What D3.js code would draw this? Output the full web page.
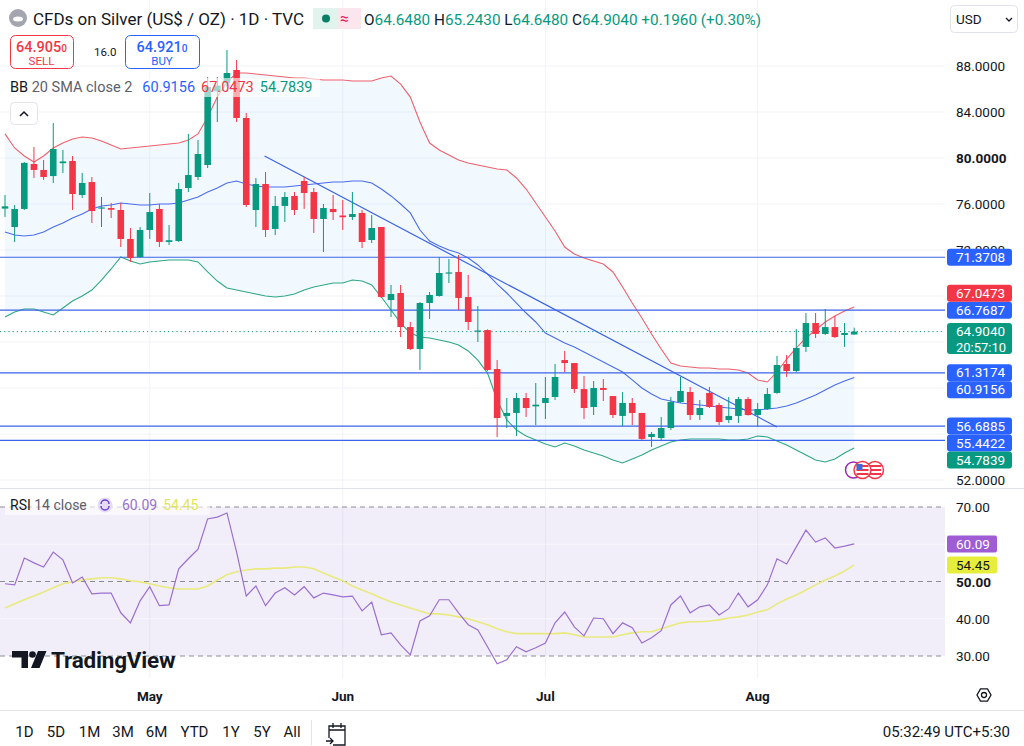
<!DOCTYPE html>
<html><head><meta charset="utf-8">
<script src="https://cdn.jsdelivr.net/npm/d3@7"></script>
<style>
body{margin:0;background:#fff;}
svg{display:block;font-family:Roboto,"Noto Sans",sans-serif;}
</style>
</head><body>
<svg id="c" width="1024" height="746"></svg>
<script>
// ---------- DATA ----------
const opens=[75.60,74.00,75.57,79.48,78.96,78.43,79.55,79.74,76.78,77.91,
75.60,75.65,75.48,72.96,71.39,73.74,75.57,72.70,72.78,77.39,
78.35,79.39,85.80,86.52,87.65,83.48,75.48,77.74,73.83,75.83,
76.70,78.00,77.04,74.70,75.57,75.00,74.87,75.22,72.87,74.00,
67.65,68.26,65.30,63.39,67.39,68.00,69.95,70.09,67.91,64.90,
65.04,61.65,57.57,57.83,59.13,58.40,58.70,59.22,62.43,62.17,
59.91,58.35,60.00,59.30,57.57,58.70,57.83,55.74,55.65,56.52,
58.78,59.65,57.65,59.57,58.52,57.22,57.57,59.04,57.65,58.17,
59.57,62.09,61.48,63.57,65.65,64.70,65.30,64.61,64.648];
const highs=[76.78,75.91,79.65,80.96,79.83,83.04,80.70,80.17,78.70,78.35,
76.61,76.09,76.09,73.91,74.00,76.96,76.00,74.17,77.83,82.09,
81.57,87.04,87.04,89.39,88.52,83.91,78.26,78.78,76.70,77.04,
77.04,78.35,77.39,76.00,76.78,76.35,77.04,75.48,75.04,74.00,
68.96,68.96,65.74,67.48,68.35,71.39,71.22,71.57,69.83,67.13,
65.10,62.43,59.13,59.57,59.57,60.43,60.96,62.09,63.22,62.17,
61.04,60.61,60.78,59.30,59.65,59.13,57.83,56.17,57.48,59.22,
60.96,60.09,58.96,60.09,58.70,59.22,59.22,59.22,58.70,60.00,
62.78,62.87,65.13,66.52,66.52,66.87,66.26,65.65,65.243];
const lows=[74.87,72.70,75.48,78.26,78.09,77.83,78.70,75.48,76.52,74.35,
74.00,74.78,72.26,70.96,71.30,72.96,72.26,72.43,72.70,77.04,
78.09,79.13,83.13,86.17,83.13,75.74,74.00,73.13,73.30,74.43,
75.04,75.57,73.48,71.83,74.61,73.74,74.61,72.17,72.61,67.83,
66.17,64.43,63.30,61.57,66.00,67.95,69.13,66.78,65.04,64.00,
61.48,55.74,56.52,55.83,57.48,56.78,57.30,58.96,61.39,59.57,
57.30,57.65,58.87,57.39,56.70,56.78,55.48,54.87,55.48,56.35,
58.70,57.22,57.22,58.26,56.78,56.96,56.96,57.60,56.61,58.09,
59.50,60.96,61.39,63.13,64.35,64.61,64.35,63.57,64.648];
const closes=[75.80,75.57,79.57,78.96,78.35,80.78,79.70,76.87,77.83,75.39,
75.70,75.50,72.96,71.30,73.74,75.30,72.70,72.85,77.30,78.52,
80.35,86.17,86.30,87.39,83.48,75.91,77.74,73.74,75.83,76.61,
75.48,76.96,74.70,75.65,75.30,74.85,75.13,72.70,73.91,67.91,
68.17,65.30,63.39,67.39,68.09,70.00,70.05,67.83,65.74,65.00,
61.57,57.39,57.83,59.13,58.26,58.55,59.13,60.96,62.17,59.91,
58.26,60.00,59.83,57.65,58.70,57.83,55.57,56.00,56.52,58.78,
59.74,57.65,58.26,58.35,57.04,57.57,59.04,57.65,58.17,59.48,
62.00,61.48,63.48,65.65,64.70,65.30,64.43,64.78,64.904];

const bbUpper=[82.10,80.87,80.17,79.65,80.17,80.87,81.30,81.65,81.83,81.74,
81.48,81.13,80.78,80.87,80.96,81.04,81.13,81.22,81.30,81.57,
82.09,83.57,85.30,86.61,87.39,87.39,87.30,87.22,87.13,87.04,
86.96,86.96,86.87,86.78,86.78,86.78,86.70,86.70,86.70,86.96,
87.13,86.43,85.30,83.13,81.30,80.70,80.26,79.83,79.57,79.39,
79.22,79.04,78.96,78.26,77.30,76.09,74.87,73.65,72.26,71.65,
71.30,71.04,70.78,70.09,68.78,67.39,66.09,64.70,63.39,62.17,
61.91,61.83,61.74,61.74,61.65,61.65,61.57,61.30,60.70,60.52,
61.39,62.52,63.48,64.35,65.04,65.74,66.26,66.70,67.0473];
const bbBasis=[73.57,73.30,73.22,73.30,73.57,74.00,74.35,74.78,75.13,75.57,
75.83,75.91,76.09,76.00,75.91,75.91,76.00,76.00,76.09,76.35,
76.61,77.04,77.39,77.83,78.00,77.74,77.57,77.48,77.48,77.48,
77.57,77.65,77.74,77.83,77.91,77.91,78.00,78.00,77.83,77.30,
76.70,76.00,75.22,73.74,72.78,72.35,72.00,71.74,71.30,70.70,
69.91,69.04,68.26,67.39,66.52,65.74,64.78,64.35,63.91,63.57,
63.13,62.70,62.26,61.83,61.39,60.70,60.00,59.48,59.04,58.87,
58.70,58.61,58.52,58.43,58.35,58.26,58.17,58.09,58.09,58.17,
58.26,58.43,58.70,59.04,59.39,59.83,60.26,60.61,60.9156];
const bbLower=[66.17,66.61,66.87,66.87,66.61,66.35,66.96,67.57,68.00,68.52,
69.39,70.35,71.39,71.04,70.78,70.96,71.04,71.13,71.13,71.13,
70.96,70.09,69.30,68.70,68.52,68.35,68.17,68.00,67.91,68.00,
68.17,68.52,68.78,68.96,69.13,69.13,69.39,69.30,68.96,67.91,
66.78,65.65,64.78,64.43,64.35,64.17,64.00,63.74,63.22,62.43,
61.30,58.96,57.22,56.35,55.83,55.48,55.13,54.87,55.22,54.96,
54.61,54.35,54.09,53.74,53.48,53.83,54.17,54.61,54.96,55.30,
55.48,55.57,55.57,55.57,55.57,55.48,55.48,55.57,55.83,55.74,
55.39,55.04,54.61,54.17,53.74,53.57,53.83,54.35,54.7839];

const rsi=[49.4,49.1,56.3,55.0,53.9,57.9,55.8,49.6,51.2,46.7,
46.9,46.9,41.6,38.9,44.8,48.6,43.5,43.7,53.4,56.1,
58.7,66.8,67.3,68.4,57.9,46.1,48.8,43.5,46.9,48.3,
46.4,48.6,45.6,46.9,46.4,45.9,46.1,42.1,44.5,35.7,
36.2,33.0,30.3,39.4,40.8,45.1,45.1,41.6,38.4,37.0,
32.5,27.9,29.0,32.5,31.1,32.2,33.5,38.9,41.8,37.8,
35.4,40.2,40.0,36.0,38.9,37.6,33.5,34.9,36.8,43.7,
46.1,41.6,43.2,43.7,41.0,42.7,46.9,43.2,45.1,49.1,
56.1,54.7,59.3,63.8,60.6,61.7,59.0,59.5,60.09];
const rsiMA=[42.9,44.0,45.1,46.1,47.2,48.3,49.4,49.9,50.4,50.7,
51.0,51.0,50.7,50.2,49.9,49.4,48.8,48.3,48.0,48.0,
48.0,48.8,50.4,51.8,52.6,53.1,53.4,53.4,53.6,53.6,
53.9,53.9,53.4,52.3,51.2,50.2,48.8,47.7,46.7,45.6,
44.5,43.7,42.9,42.1,41.3,41.3,41.0,40.5,40.0,39.2,
38.4,37.3,36.5,36.0,36.0,36.0,36.0,36.0,36.2,35.7,
35.1,35.1,35.1,35.1,35.7,36.2,36.5,36.5,37.3,38.1,
38.9,39.2,39.2,39.4,39.7,40.2,40.5,41.0,41.8,42.4,
44.0,45.3,46.4,47.7,49.1,50.4,51.5,52.8,54.45];

const levels=[71.3708,66.7687,61.3174,56.6885,55.4422];
const trendStart=[26.9,80.17], trendEnd=[80.0,56.61];
const lastPrice=64.904, countdown="20:57:10";
const priceTicks=[52,56,60,64,68,72,76,80,84,88];
const rsiTicks=[30,40,50,60,70];
const rsiBands=[70,50,30];
const monthLabels=["May","Jun","Jul","Aug"];
const monthIndex=[15,35,56,78];
const rangeButtons=["1D","5D","1M","3M","6M","YTD","1Y","5Y","All"];
const ohlcLabels=["O","H","L","C"];
const ohlcValues=["64.6480","65.2430","64.6480","64.9040"];
const changeText="+0.1960 (+0.30%)";

// ---------- SETUP ----------
const GREEN="#089981", RED="#f23645", BLUE="#2962ff", TEXT="#131722";
const plotR=945, priceBottom=488, rsiTop=489, rsiBottom=678;
const svg=d3.select("#c");
const n=closes.length;
const x=d3.scaleLinear().domain([0,n-1]).range([5,854.2]);
const y=d3.scaleLinear().domain([52,88]).range([480,66]);
const yr=d3.scaleLinear().domain([30,70]).range([656,507]);
const fmt4=d3.format(".4f"), fmt2=d3.format(".2f");

const defs=svg.append("defs");
defs.append("clipPath").attr("id","cp").append("rect").attr("x",0).attr("y",0).attr("width",plotR).attr("height",priceBottom);
defs.append("clipPath").attr("id","cr").append("rect").attr("x",0).attr("y",rsiTop).attr("width",plotR).attr("height",rsiBottom-rsiTop);

// grid
const grid=svg.append("g");
grid.selectAll("line.h").data(priceTicks).join("line")
  .attr("x1",0).attr("x2",plotR).attr("y1",d=>y(d)).attr("y2",d=>y(d))
  .attr("stroke","#f0f3fa").attr("stroke-width",1);
grid.selectAll("line.v").data(monthIndex).join("line").attr("class","v")
  .attr("x1",d=>x(d)).attr("x2",d=>x(d)).attr("y1",0).attr("y2",rsiBottom)
  .attr("stroke","#f0f3fa").attr("stroke-width",1);

// ---------- PRICE PANE ----------
const pp=svg.append("g").attr("clip-path","url(#cp)");
const idx=d3.range(n);
pp.append("path").datum(idx)
  .attr("d",d3.area().x(i=>x(i)).y0(i=>y(bbLower[i])).y1(i=>y(bbUpper[i])))
  .attr("fill","rgba(33,150,243,0.06)");
const line=arr=>d3.line().x(i=>x(i)).y(i=>y(arr[i]))(idx);
pp.append("path").attr("d",line(bbUpper)).attr("fill","none").attr("stroke","#f0606c").attr("stroke-width",1.1);
pp.append("path").attr("d",line(bbBasis)).attr("fill","none").attr("stroke","#4a6cf0").attr("stroke-width",1.1);
pp.append("path").attr("d",line(bbLower)).attr("fill","none").attr("stroke","#2fa785").attr("stroke-width",1.1);

pp.selectAll("line.lvl").data(levels).join("line")
  .attr("x1",0).attr("x2",plotR).attr("y1",d=>y(d)).attr("y2",d=>y(d))
  .attr("stroke","#3d63ea").attr("stroke-width",1.2);
pp.append("line").attr("x1",x(trendStart[0])).attr("y1",y(trendStart[1]))
  .attr("x2",x(trendEnd[0])).attr("y2",y(trendEnd[1]))
  .attr("stroke","#3d63ea").attr("stroke-width",1.2);
pp.append("line").attr("x1",0).attr("x2",plotR).attr("y1",y(lastPrice)).attr("y2",y(lastPrice))
  .attr("stroke",GREEN).attr("stroke-width",1).attr("stroke-dasharray","1.2,3");

const cg=pp.append("g");
const col=i=>closes[i]>=opens[i]?GREEN:RED;
cg.selectAll("line.w").data(idx).join("line")
  .attr("x1",i=>x(i)).attr("x2",i=>x(i)).attr("y1",i=>y(highs[i])).attr("y2",i=>y(lows[i]))
  .attr("stroke",col).attr("stroke-width",1);
cg.selectAll("rect.b").data(idx).join("rect")
  .attr("x",i=>x(i)-3.3).attr("width",6.6)
  .attr("y",i=>y(Math.max(opens[i],closes[i])))
  .attr("height",i=>Math.max(1.2,Math.abs(y(opens[i])-y(closes[i]))))
  .attr("fill",col);

// ---------- RSI PANE ----------
const rp=svg.append("g").attr("clip-path","url(#cr)");
rp.append("rect").attr("x",0).attr("width",plotR).attr("y",yr(70)).attr("height",yr(30)-yr(70))
  .attr("fill","rgba(126,87,194,0.1)");
rp.selectAll("line.g").data([60,40]).join("line")
  .attr("x1",0).attr("x2",plotR).attr("y1",d=>yr(d)).attr("y2",d=>yr(d))
  .attr("stroke","rgba(255,255,255,0.5)");
rp.selectAll("line.band").data(rsiBands).join("line")
  .attr("x1",0).attr("x2",plotR).attr("y1",d=>yr(d)).attr("y2",d=>yr(d))
  .attr("stroke","#8a8d96").attr("stroke-dasharray","5,4").attr("stroke-width",1);
rp.append("path").attr("d",d3.line().x(i=>x(i)).y(i=>yr(rsiMA[i]))(idx))
  .attr("fill","none").attr("stroke","#e8ea7e").attr("stroke-width",1.6);
rp.append("path").attr("d",d3.line().x(i=>x(i)).y(i=>yr(rsi[i]))(idx))
  .attr("fill","none").attr("stroke","#9a6fd0").attr("stroke-width",1.2);

// separators
svg.append("line").attr("x1",0).attr("x2",1024).attr("y1",priceBottom+0.5).attr("y2",priceBottom+0.5).attr("stroke","#e0e3eb");
svg.append("line").attr("x1",0).attr("x2",1024).attr("y1",710.5).attr("y2",710.5).attr("stroke","#e0e3eb");

// ---------- PRICE AXIS ----------
const fixed=levels.map(v=>({v,c:BLUE})).concat([{v:lastPrice,c:GREEN,sub:countdown}]);
fixed.sort((a,b)=>y(a.v)-y(b.v));
let prevB=-1e9;
fixed.forEach(b=>{b.h=b.sub?31:17;b.top=Math.max(y(b.v)-8.5,prevB);prevB=b.top+b.h;});
const placed=fixed.slice();
const ind=[{v:bbUpper[n-1],c:RED},{v:bbBasis[n-1],c:BLUE},{v:bbLower[n-1],c:GREEN}];
ind.forEach(b=>{
  b.h=17;b.top=y(b.v)-8.5;
  for(let k=0;k<10;k++){
    const o=placed.find(p=>b.top<p.top+p.h-0.01&&b.top+b.h>p.top+0.01);
    if(!o)break;
    b.top=(y(b.v)<o.top+o.h/2)?o.top-b.h:o.top+o.h;
  }
  placed.push(b);
});
const badges=placed;
const ax=svg.append("g").attr("font-size",13.5).attr("fill",TEXT);
ax.selectAll("text.t").data(priceTicks.filter(t=>badges.every(b=>y(t)<b.top+3||y(t)>b.top+b.h+6)))
  .join("text").attr("x",956).attr("y",d=>y(d)+5).text(d=>fmt4(d))
  .attr("font-weight",d=>d===80?700:400);
const bg=ax.selectAll("g.b").data(badges).join("g");
bg.append("rect").attr("x",947).attr("width",65).attr("y",d=>d.top).attr("height",d=>d.h).attr("rx",3).attr("fill",d=>d.c);
bg.append("text").attr("x",956).attr("y",d=>d.top+13).attr("fill","#fff").text(d=>fmt4(d.v));
bg.filter(d=>d.sub).append("text").attr("x",956).attr("y",d=>d.top+28.5).attr("font-size",13).attr("fill","#fff").text(d=>d.sub);

// RSI axis
const rb=[{v:rsi[n-1],c:"#a05cd5",t:"#fff"},{v:rsiMA[n-1],c:"#e6ee3c",t:TEXT}];
ax.selectAll("text.r").data(rsiTicks.filter(t=>rb.every(b=>Math.abs(yr(b.v)-yr(t))>8)))
  .join("text").attr("x",956).attr("y",d=>yr(d)+5).text(d=>fmt2(d))
  .attr("font-weight",d=>d===50?700:400);
const rbg=ax.selectAll("g.rb").data(rb).join("g");
rbg.append("rect").attr("x",947).attr("width",50).attr("y",d=>yr(d.v)-8.5).attr("height",17).attr("rx",2).attr("fill",d=>d.c);
rbg.append("text").attr("x",956).attr("y",d=>yr(d.v)+5).attr("fill",d=>d.t).text(d=>fmt2(d.v));

// time axis
svg.append("g").selectAll("text").data(monthIndex).join("text")
  .attr("x",d=>x(d)).attr("y",701).attr("text-anchor","middle")
  .attr("font-size",13.5).attr("font-weight",700).attr("fill",TEXT)
  .text((d,i)=>monthLabels[i]);
// gear
const gear=svg.append("g").attr("transform","translate(984,695)");
gear.append("path").attr("d",d3.range(6).map((k,j)=>{const a=Math.PI/3*k;return (j?"L":"M")+(7*Math.cos(a)).toFixed(2)+","+(7*Math.sin(a)).toFixed(2);}).join("")+"Z")
  .attr("fill","none").attr("stroke",TEXT).attr("stroke-width",1.3);
gear.append("circle").attr("r",2.5).attr("fill","none").attr("stroke",TEXT).attr("stroke-width",1.3);

// flags
const fl=svg.append("g");
fl.append("circle").attr("cx",853.5).attr("cy",470).attr("r",8).attr("fill","#fff").attr("stroke","#9c27b0").attr("stroke-width",1.5);
[[875,470],[862.5,470]].forEach(([cx,cy],k)=>{
  const g=fl.append("g");
  g.append("circle").attr("cx",cx).attr("cy",cy).attr("r",8.5).attr("fill","#fff").attr("stroke",RED).attr("stroke-width",1.5);
  [-4,0,4].forEach(dy=>g.append("rect").attr("x",cx-6).attr("y",cy+dy-1).attr("width",12).attr("height",2).attr("fill",RED));
  if(k===1) g.append("rect").attr("x",cx-6).attr("y",cy-6).attr("width",6).attr("height",6).attr("fill","#3f6ad8");
});

// ---------- HEADER / LEGENDS ----------
const hd=svg.append("g").attr("fill",TEXT);
hd.append("circle").attr("cx",18).attr("cy",18).attr("r",9).attr("fill","#a3a6af");
hd.append("ellipse").attr("cx",18).attr("cy",19).attr("rx",5).attr("ry",2.5).attr("fill","#fff");
hd.append("text").attr("x",33).attr("y",25).attr("font-size",17).text("CFDs on Silver (US$ / OZ) · 1D · TVC");
hd.append("rect").attr("x",313).attr("y",8).attr("width",24).attr("height",21).attr("fill","#e1f3ed");
hd.append("rect").attr("x",337).attr("y",8).attr("width",24).attr("height",21).attr("fill","#fbe6ee");
hd.append("circle").attr("cx",326).attr("cy",18.5).attr("r",4).attr("fill","#0b7f64");
hd.append("text").attr("x",340).attr("y",24).attr("font-size",16).attr("fill","#e91e63").text("≈");
const oh=hd.append("text").attr("x",364).attr("y",25).attr("font-size",15.3);
ohlcLabels.forEach((l,i)=>{
  oh.append("tspan").attr("fill",TEXT).text((i?" ":"")+l);
  oh.append("tspan").attr("fill",GREEN).text(ohlcValues[i]);
});
oh.append("tspan").attr("fill",GREEN).text(" "+changeText);

function tradeBox(x0,w,color,price,lbl){
  hd.append("rect").attr("x",x0+0.5).attr("y",35.5).attr("width",w).attr("height",33).attr("rx",5)
    .attr("fill","#fff").attr("stroke",color);
  const t=hd.append("text").attr("x",x0+w/2).attr("y",52).attr("text-anchor","middle")
    .attr("font-size",14.5).attr("font-weight",500).attr("fill",color);
  t.append("tspan").text(price);
  t.append("tspan").attr("font-size",10).text("0");
  hd.append("text").attr("x",x0+w/2).attr("y",65).attr("text-anchor","middle").attr("font-size",11.5).attr("fill",color).text(lbl);
}
tradeBox(10,63,RED,"64.905","SELL");
hd.append("text").attr("x",94).attr("y",56).attr("font-size",11.5).text("16.0");
tradeBox(125,74,BLUE,"64.921","BUY");

hd.append("rect").attr("x",5).attr("y",78).attr("width",315).attr("height",19).attr("fill","rgba(255,255,255,0.6)");
const bb=hd.append("text").attr("x",10).attr("y",92).attr("font-size",14.5);
bb.append("tspan").attr("fill",TEXT).text("BB");
bb.append("tspan").attr("fill","#5d606b").text(" 20 SMA close 2");
bb.append("tspan").attr("fill",BLUE).attr("dx",10).text(fmt4(bbBasis[n-1]));
bb.append("tspan").attr("fill",RED).attr("dx",6).text(fmt4(bbUpper[n-1]));
bb.append("tspan").attr("fill",GREEN).attr("dx",6).text(fmt4(bbLower[n-1]));
hd.append("rect").attr("x",10.5).attr("y",102.5).attr("width",27).attr("height",22).attr("rx",4).attr("fill","#fff").attr("stroke","#e0e3eb");
hd.append("path").attr("d","M20 116 L24 112 L28 116").attr("fill","none").attr("stroke",TEXT).attr("stroke-width",1.5);

// USD
hd.append("rect").attr("x",950.5).attr("y",5.5).attr("width",67).attr("height",27).attr("rx",4).attr("fill","#fff").attr("stroke","#e0e3eb");
hd.append("text").attr("x",956).attr("y",24).attr("font-size",13.5).text("USD");
hd.append("path").attr("d","M1006 18 L1009 21 L1012 18").attr("fill","none").attr("stroke",TEXT).attr("stroke-width",1.3);

// RSI legend
hd.append("rect").attr("x",5).attr("y",496).attr("width",205).attr("height",19).attr("fill","rgba(255,255,255,0.6)");
const rl=hd.append("text").attr("x",10).attr("y",510).attr("font-size",14);
rl.append("tspan").attr("fill",TEXT).text("RSI");
rl.append("tspan").attr("fill","#5d606b").text(" 14 close");
hd.append("circle").attr("cx",105).attr("cy",505).attr("r",7.5).attr("fill","#e6dcf7");
hd.append("path").attr("d","M101 504 A4 4 0 0 1 109 504 M109 506 A4 4 0 0 1 101 506").attr("fill","none").attr("stroke","#6a3fd6").attr("stroke-width",1.5);
const rl2=hd.append("text").attr("x",122).attr("y",510).attr("font-size",14);
rl2.append("tspan").attr("fill","#9a6fd0").text(fmt2(rsi[n-1]));
rl2.append("tspan").attr("fill","#e0e45a").attr("dx",6).text(fmt2(rsiMA[n-1]));

// TradingView logo
const lg=hd.append("g").attr("fill",TEXT);
lg.append("path").attr("d","M12 651 H28 V668 H21.5 V657.5 H12 Z");
lg.append("circle").attr("cx",32.5).attr("cy",654.5).attr("r",3.3);
lg.append("path").attr("d","M38 651 H46.5 L39.5 668 H31 Z");
lg.append("text").attr("x",51).attr("y",668).attr("font-size",22.5).attr("font-weight",700).attr("letter-spacing",-0.2).text("TradingView");

// bottom toolbar
const tb=svg.append("g").attr("font-size",15).attr("fill",TEXT);
const btnX=[24.5,56,89.5,123,156.5,194.5,231,262,292];
tb.selectAll("text.btn").data(rangeButtons).join("text")
  .attr("x",(d,i)=>btnX[i]).attr("y",737).attr("text-anchor","middle").text(d=>d);
tb.append("line").attr("x1",311.5).attr("x2",311.5).attr("y1",720).attr("y2",745).attr("stroke","#e0e3eb");
const cal=tb.append("g").attr("fill","none").attr("stroke",TEXT).attr("stroke-width",1.3);
cal.append("path").attr("d","M329 738 V726 H345 V745 H333 M329 730 H345 M333 723 V728 M341 723 V728 M326 741 H333 M330 738 L333 741 L330 744");
tb.append("text").attr("x",1010).attr("y",737).attr("text-anchor","end").text("05:32:49 UTC+5:30");
</script>
</body></html>
